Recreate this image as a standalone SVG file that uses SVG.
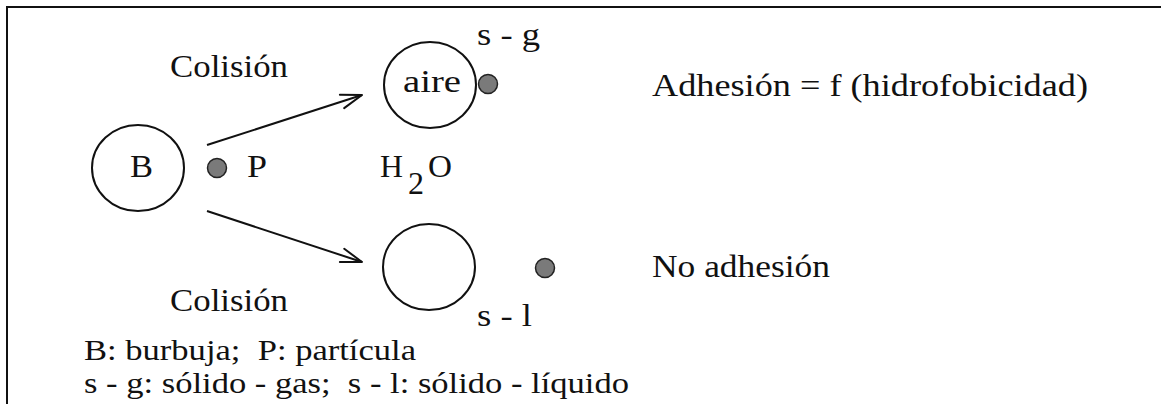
<svg xmlns="http://www.w3.org/2000/svg" width="1161" height="404" viewBox="0 0 1161 404">
<defs>
<style>
text{font-family:'Liberation Serif','Times New Roman',serif;font-size:32px;fill:#111}
.leg{font-size:29px}
.c{fill:none;stroke:#111;stroke-width:2}
.d{fill:#7a7a7a;stroke:#222;stroke-width:1.5}
.ln{fill:none;stroke:#111;stroke-width:2}
</style>
<marker id="ah" viewBox="-24 -10 26 20" markerWidth="26" markerHeight="20" refX="0" refY="0" orient="auto" markerUnits="userSpaceOnUse">
<path d="M-21,-7 L0,0 L-21,7" fill="none" stroke="#111" stroke-width="2" stroke-linejoin="round" stroke-linecap="round"/>
</marker>
</defs>
<rect width="1161" height="404" fill="#fff"/>
<path d="M7,404 V7 H1161" class="ln"/>
<g id="connectors">
<line x1="207" y1="145" x2="362" y2="95" class="ln" marker-end="url(#ah)"/>
<line x1="207" y1="211" x2="362" y2="262" class="ln" marker-end="url(#ah)"/>
</g>
<g id="nodeB"><ellipse cx="138" cy="168" rx="46" ry="43" class="c"/><text x="130" y="177" textLength="23" lengthAdjust="spacingAndGlyphs">B</text></g>
<g id="nodeP"><circle cx="217" cy="168" r="9.5" class="d"/><text x="247" y="177" textLength="20" lengthAdjust="spacingAndGlyphs">P</text></g>
<g id="nodeAire"><ellipse cx="430" cy="85" rx="46" ry="43" class="c"/><text x="403" y="92" textLength="58" lengthAdjust="spacingAndGlyphs">aire</text></g>
<g id="particleSG"><circle cx="488" cy="84" r="9.5" class="d"/><text x="477" y="45" textLength="63" lengthAdjust="spacingAndGlyphs">s - g</text></g>
<g id="nodeLower"><ellipse cx="429" cy="267" rx="46" ry="43" class="c"/></g>
<g id="particleSL"><circle cx="545" cy="268" r="9.5" class="d"/><text x="477" y="326" textLength="55" lengthAdjust="spacingAndGlyphs">s - l</text></g>
<g id="labels">
<text x="170" y="77" textLength="118" lengthAdjust="spacingAndGlyphs">Colisión</text>
<text x="170" y="311" textLength="118" lengthAdjust="spacingAndGlyphs">Colisión</text>
<text x="380" y="177" textLength="23" lengthAdjust="spacingAndGlyphs">H</text><text x="408" y="194" font-size="22">2</text><text x="428" y="177" textLength="24" lengthAdjust="spacingAndGlyphs">O</text>
<text x="652" y="96" textLength="436" lengthAdjust="spacingAndGlyphs">Adhesión = f (hidrofobicidad)</text>
<text x="652" y="277" textLength="178" lengthAdjust="spacingAndGlyphs">No adhesión</text>
<text class="leg" x="84" y="360" textLength="332" lengthAdjust="spacingAndGlyphs" xml:space="preserve">B: burbuja;  P: partícula</text>
<text class="leg" x="84" y="393" textLength="545" lengthAdjust="spacingAndGlyphs" xml:space="preserve">s - g: sólido - gas;  s - l: sólido - líquido</text>
</g>
</svg>
